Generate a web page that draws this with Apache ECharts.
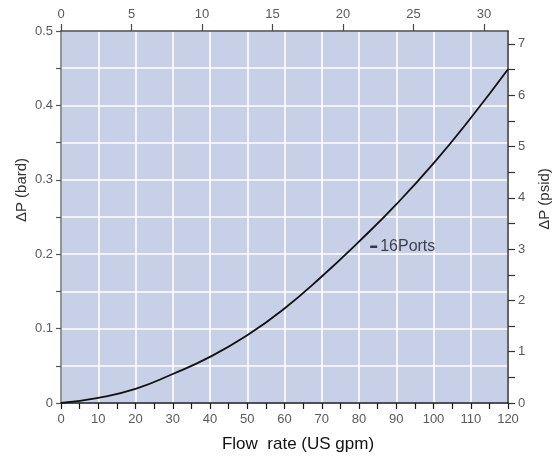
<!DOCTYPE html>
<html>
<head>
<meta charset="utf-8">
<script src="https://cdn.jsdelivr.net/npm/echarts@6/dist/echarts.min.js"></script>
<style>
html,body{margin:0;padding:0;background:#fff;}
#c{width:560px;height:457px;}
</style>
</head>
<body>
<div id="c"></div>
<script>
// Data
const flowLpm = [0, 10, 20, 30, 40, 50, 60, 70, 80, 90, 100, 110, 120];
const dpBar   = [0, 0.007, 0.019, 0.039, 0.062, 0.091, 0.127, 0.170, 0.217, 0.267, 0.322, 0.383, 0.4485];
const seriesName = '16Ports';
const labelAt = [83, 0.21];

// Axis ranges / ticks
const bottomMax = 120;
const leftMax = 0.5;
const topMax = 120 / 3.785;        // US gpm
const rightMax = 0.5 * 14.5038;     // psi
const topTicks = [0, 5, 10, 15, 20, 25, 30];
const rightTicks = [0, 0.5, 1, 1.5, 2, 2.5, 3, 3.5, 4, 4.5, 5, 5.5, 6, 6.5, 7];
const rightLabels = [0, 1, 2, 3, 4, 5, 6, 7];

const tickFont = {fontFamily: '"Liberation Sans Narrow", "Liberation Sans", Arial, sans-serif', fontSize: 13, color: '#5a5a5a'};

const chart = echarts.init(document.getElementById('c'), null, {renderer: 'canvas'});
chart.setOption({
  animation: false,
  backgroundColor: '#ffffff',
  grid: {left: 61, right: 52, top: 31, bottom: 54, show: true, backgroundColor: '#c8d0e8', borderWidth: 0},
  xAxis: [
    {
      type: 'value', position: 'bottom', min: 0, max: bottomMax, interval: 10,
      axisLine: {show: true, onZero: false, lineStyle: {color: '#1a1a1a', width: 1.5}},
      axisTick: {show: true, length: 6, lineStyle: {color: '#1a1a1a', width: 1.2}},
      minorTick: {show: true, splitNumber: 2, length: 6, lineStyle: {color: '#1a1a1a', width: 1.2}},
      axisLabel: Object.assign({margin: 10}, tickFont),
      splitLine: {show: true, lineStyle: {color: '#ffffff', width: 1.6}}
    },
    {
      type: 'value', position: 'top', min: 0, max: topMax,
      axisLine: {show: true, onZero: false, lineStyle: {color: '#4a4a4a', width: 1.5}},
      axisTick: {show: true, length: 7, customValues: topTicks, lineStyle: {color: '#4a4a4a', width: 1.2}},
      axisLabel: Object.assign({margin: 10, customValues: topTicks}, tickFont),
      splitLine: {show: false}
    }
  ],
  yAxis: [
    {
      type: 'value', position: 'left', min: 0, max: leftMax, interval: 0.1,
      axisLine: {show: true, onZero: false, lineStyle: {color: '#707070', width: 1.5}},
      axisTick: {show: true, length: 5, lineStyle: {color: '#555', width: 1.2}},
      minorTick: {show: true, splitNumber: 2, length: 5, lineStyle: {color: '#555', width: 1.2}},
      axisLabel: Object.assign({margin: 8}, tickFont),
      splitLine: {show: true, lineStyle: {color: '#ffffff', width: 1.6}},
      minorSplitLine: {show: true, lineStyle: {color: '#ffffff', width: 1.6}}
    },
    {
      type: 'value', position: 'right', min: 0, max: rightMax,
      axisLine: {show: true, onZero: false, lineStyle: {color: '#333', width: 1.5}},
      axisTick: {show: true, length: 7, customValues: rightTicks, lineStyle: {color: '#333', width: 1.2}},
      axisLabel: Object.assign({margin: 10, customValues: rightLabels}, tickFont),
      splitLine: {show: false}
    }
  ],
  graphic: [
    {type: 'text', x: 22, y: 190, rotation: Math.PI / 2,
     style: {text: 'ΔP (bard)', fontFamily: '"Liberation Sans", Arial, sans-serif', fontSize: 15, fill: '#333', align: 'center', verticalAlign: 'middle'}},
    {type: 'text', x: 545, y: 199, rotation: Math.PI / 2,
     style: {text: 'ΔP (psid)', fontFamily: '"Liberation Sans", Arial, sans-serif', fontSize: 15, fill: '#333', align: 'center', verticalAlign: 'middle'}},
    {type: 'text', x: 298, y: 444,
     style: {text: 'Flow  rate (US gpm)', fontFamily: '"Liberation Sans", Arial, sans-serif', fontSize: 17, fill: '#111', align: 'center', verticalAlign: 'middle'}}
  ],
  series: [
    {
      name: seriesName, type: 'line', xAxisIndex: 0, yAxisIndex: 0,
      data: flowLpm.map((x, i) => [x, dpBar[i]]),
      smooth: 0.5, symbol: 'none',
      lineStyle: {color: '#111', width: 1.8}
    },
    {
      type: 'scatter', xAxisIndex: 0, yAxisIndex: 0,
      data: [labelAt], symbolSize: 0, silent: true,
      label: {
        show: true, position: 'right', distance: 0,
        formatter: '{d| }{t|' + seriesName + '}',
        rich: {
          d: {width: 7, height: 2.5, backgroundColor: '#111'},
          t: {fontFamily: '"Liberation Sans", Arial, sans-serif', fontSize: 16, color: '#1a1a1a', padding: [0, 0, 0, 3]}
        }
      }
    }
  ]
});
</script>
</body>
</html>
